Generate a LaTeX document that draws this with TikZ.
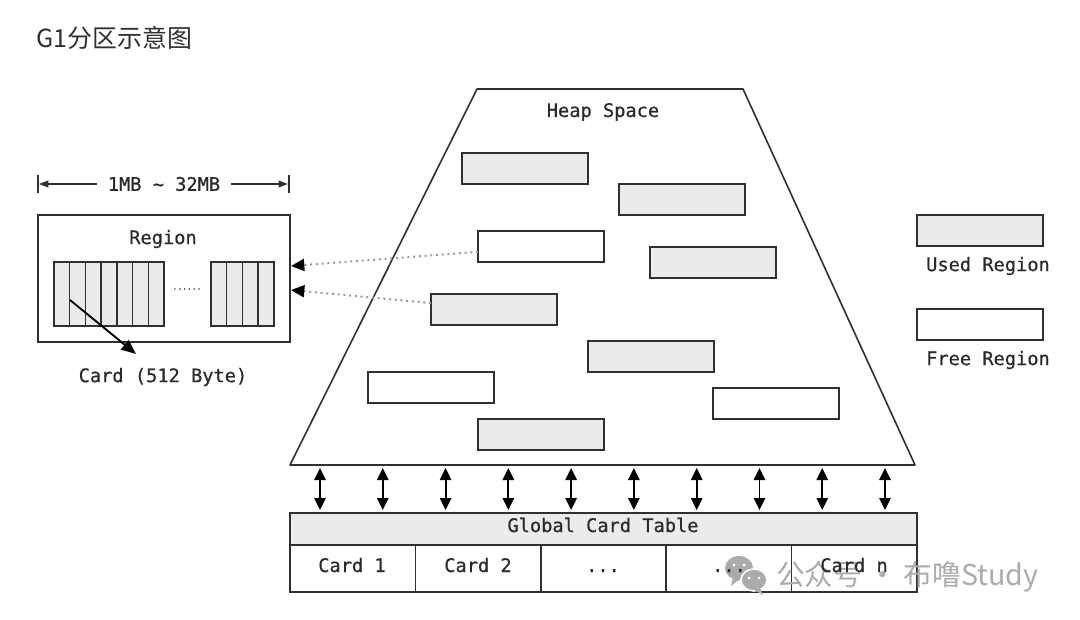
\documentclass[tikz,border=0pt]{standalone}
\usepackage{fontspec}
\setmonofont{DejaVu Sans Mono}
\newfontfamily\lblfont[FakeBold=0.6]{DejaVu Sans Mono}
\newfontfamily\cjk{Noto Sans CJK SC}
\usetikzlibrary{arrows.meta}
\definecolor{ln}{HTML}{303030}
\definecolor{tx}{HTML}{2A2A2A}
\definecolor{usedfill}{HTML}{EBEBEB}
\definecolor{wm}{HTML}{ABABAB}
\definecolor{dotc}{HTML}{9A9A9A}
\begin{document}
\begin{tikzpicture}[x=0.75pt,y=-0.75pt,
  lbl/.style={font=\lblfont\fontsize{14}{16}\selectfont, text=tx, inner sep=0pt},
  hbox/.style={draw=ln, line width=1.2pt, minimum width=94.5pt, minimum height=23.25pt,
    inner sep=0pt, outer sep=0pt, anchor=north west},
  used/.style={hbox, fill=usedfill},
  free/.style={hbox, fill=white},
  cellbox/.style={draw=ln, line width=1.1pt, fill=usedfill, minimum width=11.79pt,
    minimum height=48pt, inner sep=0pt, outer sep=0pt, anchor=north west},
  plainbox/.style={draw=ln, line width=1.2pt, inner sep=0pt, outer sep=0pt, anchor=north west},
  edge/.style={draw=ln, line width=1.2pt, line join=round},
  dotarr/.style={draw=dotc, line width=1.5pt, dash pattern=on 1.5pt off 2.8pt,
    -{Triangle[length=10pt,width=9pt,color=black]}},
  dblarr/.style={draw=black, line width=1.4pt,
    {Triangle[length=9pt,width=8.5pt]}-{Triangle[length=9pt,width=8.5pt]}},
  cardarr/.style={draw=black, line width=1.4pt, -{Triangle[length=11pt,width=9pt]}},
  dimarr/.style={draw=ln, line width=1.2pt, -{Triangle[length=7pt,width=5pt]}},
]
\useasboundingbox (0,0) rectangle (1080,620);

% title
\node[anchor=west, inner sep=0pt, text=ln, font=\cjk\fontsize{18.7}{20}\selectfont] (title) at (36,38) {G1分区示意图};

% heap space trapezoid
\coordinate (tl) at (477,89);
\coordinate (tr) at (743,89);
\coordinate (br) at (915,465);
\coordinate (bl) at (290,465);
\draw[edge] (tl) -- (tr) -- (br) -- (bl) -- cycle;
\node[lbl] (heap) at (603,112) {Heap Space};

% regions in heap
\node[used] (b1) at (462,153) {};
\node[used] (b2) at (619,184) {};
\node[free] (b3) at (478,231) {};
\node[used] (b4) at (650,247) {};
\node[used] (b5) at (431,294) {};
\node[used] (b6) at (588,341) {};
\node[free] (b7) at (368,372) {};
\node[free] (b8) at (713,388) {};
\node[used] (b9) at (478,419) {};

% legend
\node[used] (legused) at (917,215) {};
\node[lbl] (legusedt) at (988,266) {Used Region};
\node[free] (legfree) at (917,309) {};
\node[lbl] (legfreet) at (988,360) {Free Region};

% dimension line
\node[lbl, inner xsep=8pt] (dimt) at (164,184) {1MB \char`\~{} 32MB};
\coordinate (dl1) at (38,175);
\coordinate (dl2) at (38,193);
\coordinate (dr1) at (289,175);
\coordinate (dr2) at (289,193);
\coordinate (dlm) at (39,184);
\coordinate (drm) at (288,184);
\draw[edge] (dl1) -- (dl2);
\draw[edge] (dr1) -- (dr2);
\draw[dimarr] (dimt) -- (dlm);
\draw[dimarr] (dimt) -- (drm);

% region detail
\node[plainbox, minimum width=189pt, minimum height=95.25pt] (region) at (38,215) {};
\node[lbl] (regiont) at (163,239) {Region};
\foreach \i in {0,...,6} {
  \node[cellbox] (ca\i) at ({54+15.714*\i},262) {};
}
\foreach \i in {0,...,3} {
  \node[cellbox] (cb\i) at ({211+15.75*\i},262) {};
}
\node[lbl, font=\lblfont\fontsize{6}{6}\selectfont] (rdots) at (187,289) {......};
\coordinate (cfrom) at (70,300);
\coordinate (cto) at (136,354);
\draw[cardarr] (cfrom) -- (cto);
\node[lbl] (cardt) at (163,377) {Card (512 Byte)};

% dotted references
\coordinate (rin1) at (291,266);
\coordinate (rin2) at (291,290);
\draw[dotarr] ([yshift=-4pt]b3.west) -- (rin1);
\draw[dotarr] ([yshift=4.8pt]b5.west) -- (rin2);

% double arrows
\foreach \i in {0,...,9} {
  \coordinate (ta\i) at ({320+62.78*\i},468);
  \coordinate (tb\i) at ({320+62.78*\i},510);
  \draw[dblarr] (ta\i) -- (tb\i);
}

% global card table
\node[plainbox, fill=usedfill, minimum width=470.25pt, minimum height=24pt] (gct) at (290,513) {};
\node[lbl] (gctt) at (603,525) {Global Card Table};
\foreach \i in {0,...,4} {
  \node[plainbox, minimum width=94.05pt, minimum height=35.25pt] (c\i) at ({290+125.4*\i},545) {};
}

% watermark
\begin{scope}[fill=wm]
  \fill (739,568) ellipse [x radius=14, y radius=12];
  \fill (733,577) -- (731,586) -- (740,579) -- cycle;
  \filldraw[draw=white, line width=1.2pt] (754,580) ellipse [x radius=13, y radius=11];
  \fill (760,588) -- (763,595) -- (754,590) -- cycle;
  \fill[white] (734,565) circle [radius=1.6];
  \fill[white] (744,565) circle [radius=1.6];
  \fill[white] (749,578) circle [radius=1.5];
  \fill[white] (759,578) circle [radius=1.5];
\end{scope}
\node[anchor=west, inner sep=0pt, text=wm, font=\cjk\fontsize{21.5}{23}\selectfont] (wmt) at (776,577) {公众号 · 布噜Study};

\node[lbl, anchor=base] (k1) at (352,572) {Card 1};
\node[lbl, anchor=base] (k2) at (478,572) {Card 2};
\node[lbl, anchor=base] (k3) at (603,572) {...};
\node[lbl, anchor=base] (k4) at (729,572) {...};
\node[lbl, anchor=base] (k5) at (854,572) {Card n};
\end{tikzpicture}
\end{document}
